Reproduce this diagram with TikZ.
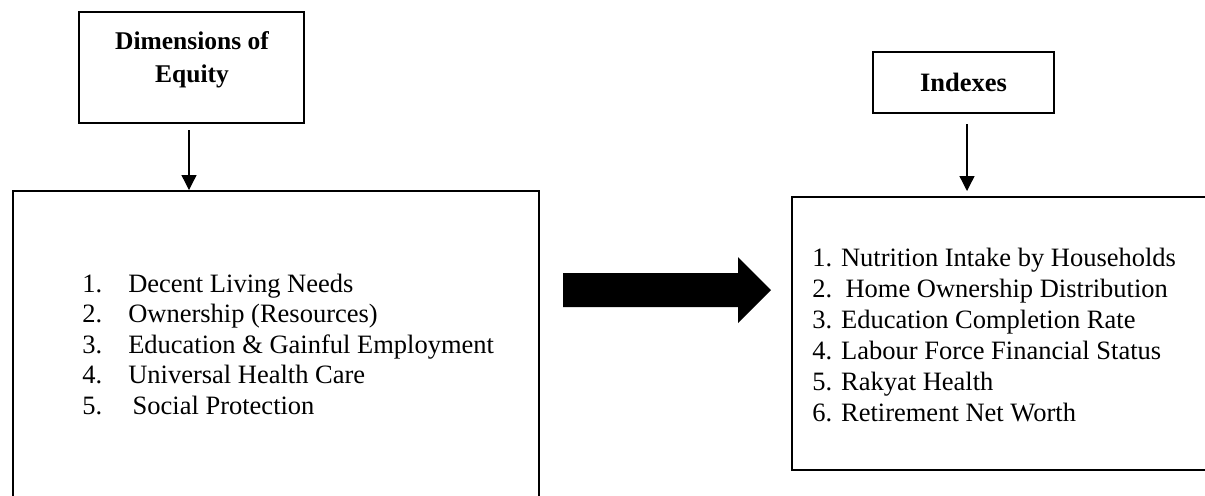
\documentclass[tikz,border=0pt]{standalone}
\usepackage{fontspec}
\setmainfont{Liberation Serif}
\usetikzlibrary{arrows.meta}
\begin{document}
\begin{tikzpicture}[x=0.5pt,y=-0.5pt,
  box/.style={draw, line width=1pt, inner sep=0pt},
  conn/.style={line width=0.65pt, -{Triangle[length=7.5pt,width=7.5pt]}},
  txt/.style={inner sep=0pt, font=\fontsize{13.25pt}{15.25pt}\selectfont},
  ]
\useasboundingbox (0,0) rectangle (1205,495);
% title boxes
\node[box, minimum width=112.5pt, minimum height=55.5pt] (dims) at (191.5,67.5) {};
\node[inner sep=0pt, anchor=base, font=\bfseries\fontsize{12.75pt}{16.5pt}\selectfont] (dimstext) at (192,49)
  {\begin{tabular}[t]{@{}c@{}}Dimensions of\\Equity\end{tabular}};
\node[box, font=\bfseries\fontsize{13.25pt}{15pt}\selectfont, minimum width=90.5pt, minimum height=30.5pt] (idx) at (963.5,82.5) {Indexes};
% list boxes
\node[box, minimum width=263.25pt, minimum height=160pt] (leftbox) at (275.75,351) {};
\node[box, minimum width=211.5pt, minimum height=136.5pt] (rightbox) at (1003.5,333.5) {};
% lists
\node[txt, anchor=base west] (leftlist) at (82,292)
  {\begin{tabular}[t]{@{}l@{\hspace{13pt}}l@{}}
   1. & Decent Living Needs\\
   2. & Ownership (Resources)\\
   3. & Education \& Gainful Employment\\
   4. & Universal Health Care\\
   5. & \,Social Protection
   \end{tabular}};
\node[inner sep=0pt, anchor=base west, font=\fontsize{13.25pt}{15.5pt}\selectfont] (rightlist) at (812,266)
  {\begin{tabular}[t]{@{}l@{}}
   1. Nutrition Intake by Households\\
   2.\ \ Home Ownership Distribution\\
   3. Education Completion Rate\\
   4. Labour Force Financial Status\\
   5. Rakyat Health\\
   6. Retirement Net Worth
   \end{tabular}};
% connectors
\coordinate (a1) at ([xshift=-1.25pt]dims.south);
\draw[conn, shorten <=3pt] (a1) -- (a1 |- leftbox.north);
\coordinate (a2) at ([xshift=1.75pt]idx.south);
\draw[conn, shorten <=5pt, shorten >=2.5pt] (a2) -- (a2 |- rightbox.north);
% big arrow
\fill (563,273) -- (738,273) -- (738,257) -- (771,290) -- (738,323) -- (738,307) -- (563,307) -- cycle;
\end{tikzpicture}
\end{document}
